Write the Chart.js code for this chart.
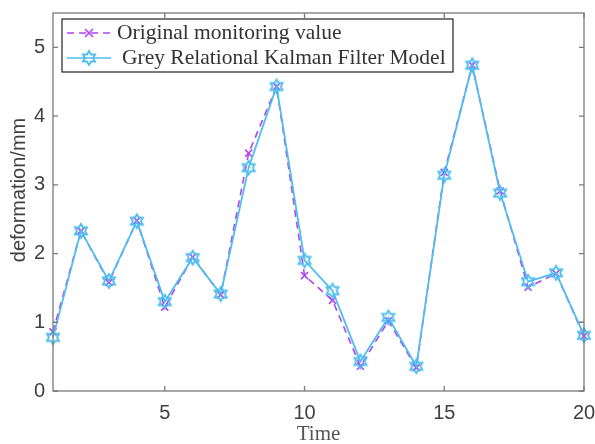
<!DOCTYPE html>
<html>
<head>
<meta charset="utf-8">
<script src="https://cdn.jsdelivr.net/npm/chart.js@4/dist/chart.umd.min.js"></script>
<style>
  html, body { margin: 0; padding: 0; background: #ffffff; }
  #wrap { position: relative; width: 595px; height: 444px; }
</style>
</head>
<body>
<div id="wrap"><canvas id="c" width="595" height="444"></canvas></div>
<script>
// Deformation readings per time step
const timeSteps = [1, 2, 3, 4, 5, 6, 7, 8, 9, 10, 11, 12, 13, 14, 15, 16, 17, 18, 19, 20];
const originalValues = [0.86, 2.33, 1.58, 2.48, 1.22, 1.95, 1.40, 3.46, 4.43, 1.68, 1.32, 0.36, 1.02, 0.34, 3.18, 4.74, 2.91, 1.51, 1.71, 0.80];
const modelValues    = [0.78, 2.33, 1.60, 2.47, 1.30, 1.94, 1.41, 3.25, 4.43, 1.90, 1.46, 0.43, 1.07, 0.36, 3.14, 4.74, 2.88, 1.59, 1.72, 0.81];
const seriesNames = ['Original monitoring value', 'Grey Relational Kalman Filter Model'];
const xTickValues = [5, 10, 15, 20];
const yTickValues = [0, 1, 2, 3, 4, 5];
const xTitle = 'Time';
const yTitle = 'deformation/mm';

const PURPLE = '#b044f0';
const CYAN = '#4dbeee';
const AXIS = '#7a7a7a';

// six-pointed star marker
function hexagram(color, r, lw) {
  const s = Math.ceil(2 * r + 2 * lw + 2);
  const c = document.createElement('canvas');
  c.width = s; c.height = s;
  const g = c.getContext('2d');
  const cx = s / 2, cy = s / 2, ri = r / Math.sqrt(3);
  g.strokeStyle = color; g.lineWidth = lw; g.lineJoin = 'miter';
  g.beginPath();
  for (let k = 0; k < 12; k++) {
    const a = -Math.PI / 2 + k * Math.PI / 6;
    const rr = (k % 2 === 0) ? r : ri;
    const px = cx + rr * Math.cos(a), py = cy + rr * Math.sin(a);
    if (k === 0) g.moveTo(px, py); else g.lineTo(px, py);
  }
  g.closePath();
  g.stroke();
  return c;
}
const hexMarker = hexagram(CYAN, 7, 1.8);

const toPoints = vals => timeSteps.map((t, i) => ({ x: t, y: vals[i] }));

// Box around the axes with inward ticks
const boxPlugin = {
  id: 'boxAxes',
  afterDatasetsDraw(chart) {
    const { ctx, chartArea: a, scales } = chart;
    ctx.save();
    ctx.strokeStyle = AXIS;
    ctx.lineWidth = 1.3;
    ctx.strokeRect(a.left, a.top, a.right - a.left, a.bottom - a.top);
    const tl = 5;
    ctx.beginPath();
    xTickValues.forEach(v => {
      const px = scales.x.getPixelForValue(v);
      ctx.moveTo(px, a.bottom); ctx.lineTo(px, a.bottom - tl);
      ctx.moveTo(px, a.top); ctx.lineTo(px, a.top + tl);
    });
    yTickValues.forEach(v => {
      const py = scales.y.getPixelForValue(v);
      ctx.moveTo(a.left, py); ctx.lineTo(a.left + tl, py);
      ctx.moveTo(a.right, py); ctx.lineTo(a.right - tl, py);
    });
    ctx.stroke();

    // axis titles
    ctx.fillStyle = '#555555';
    ctx.font = '21px "Liberation Serif", "Times New Roman", serif';
    ctx.textAlign = 'center';
    ctx.textBaseline = 'alphabetic';
    ctx.fillText(xTitle, (a.left + a.right) / 2, 440);
    ctx.fillStyle = '#404040';
    ctx.font = '20px "Liberation Sans", Arial, sans-serif';
    ctx.translate(25, 190);
    ctx.rotate(-Math.PI / 2);
    ctx.textBaseline = 'alphabetic';
    ctx.fillText(yTitle, 0, 0);
    ctx.restore();
  }
};

// Boxed legend in the upper left of the plot
const legendPlugin = {
  id: 'boxLegend',
  afterDraw(chart) {
    const { ctx } = chart;
    const x0 = 62, y0 = 19, x1 = 453, y1 = 72;
    ctx.save();
    ctx.fillStyle = '#ffffff';
    ctx.fillRect(x0, y0, x1 - x0, y1 - y0);
    ctx.strokeStyle = '#222222';
    ctx.lineWidth = 1.2;
    ctx.strokeRect(x0, y0, x1 - x0, y1 - y0);

    const rows = [33, 58];
    const ds = chart.data.datasets;
    ds.forEach((d, i) => {
      const y = rows[i];
      ctx.strokeStyle = d.borderColor;
      ctx.lineWidth = 1.6;
      ctx.setLineDash(d.borderDash || []);
      ctx.beginPath();
      ctx.moveTo(67, y); ctx.lineTo(111, y);
      ctx.stroke();
      ctx.setLineDash([]);
      if (d.pointStyle === 'crossRot') {
        const r = 4;
        ctx.lineWidth = 1.6;
        ctx.beginPath();
        ctx.moveTo(89 - r, y - r); ctx.lineTo(89 + r, y + r);
        ctx.moveTo(89 + r, y - r); ctx.lineTo(89 - r, y + r);
        ctx.stroke();
      } else {
        ctx.drawImage(d.pointStyle, 89 - d.pointStyle.width / 2, y - d.pointStyle.height / 2);
      }
      ctx.fillStyle = '#333333';
      ctx.font = '21.5px "Liberation Serif", "Times New Roman", serif';
      ctx.textAlign = 'left';
      ctx.textBaseline = 'middle';
      ctx.fillText(d.label, i === 0 ? 117 : 122, y);
    });
    ctx.restore();
  }
};

new Chart(document.getElementById('c'), {
  type: 'line',
  data: {
    datasets: [
      {
        label: seriesNames[0],
        data: toPoints(originalValues),
        borderColor: PURPLE,
        backgroundColor: PURPLE,
        borderWidth: 1.6,
        borderDash: [7, 5],
        pointStyle: 'crossRot',
        pointRadius: 5,
        pointBorderWidth: 1.6,
        pointBorderColor: PURPLE,
        tension: 0,
        fill: false,
        clip: false,
        order: 2
      },
      {
        label: seriesNames[1],
        data: toPoints(modelValues),
        borderColor: CYAN,
        backgroundColor: CYAN,
        borderWidth: 1.8,
        pointStyle: hexMarker,
        pointRadius: 7,
        tension: 0,
        fill: false,
        clip: false,
        order: 1
      }
    ]
  },
  options: {
    responsive: false,
    devicePixelRatio: 1,
    animation: false,
    layout: { padding: { top: 13, right: 11, left: 0, bottom: 0 } },
    plugins: { legend: { display: false }, tooltip: { enabled: false } },
    scales: {
      x: {
        type: 'linear',
        min: 1, max: 20,
        grid: { display: false, drawTicks: false },
        border: { display: false },
        ticks: {
          color: '#404040',
          font: { family: '"Liberation Sans", Arial, sans-serif', size: 20 },
          padding: 10,
          maxRotation: 0
        },
        afterBuildTicks(s) { s.ticks = xTickValues.map(v => ({ value: v })); },
        afterFit(s) { s.height = 53; s.paddingLeft = 0; s.paddingRight = 0; }
      },
      y: {
        min: 0, max: 5.5,
        grid: { display: false, drawTicks: false },
        border: { display: false },
        ticks: {
          color: '#404040',
          font: { family: '"Liberation Sans", Arial, sans-serif', size: 20 },
          padding: 8
        },
        afterBuildTicks(s) { s.ticks = yTickValues.map(v => ({ value: v })); },
        afterFit(s) { s.width = 53; s.paddingTop = 0; s.paddingBottom = 0; }
      }
    }
  },
  plugins: [boxPlugin, legendPlugin]
});
</script>
</body>
</html>
